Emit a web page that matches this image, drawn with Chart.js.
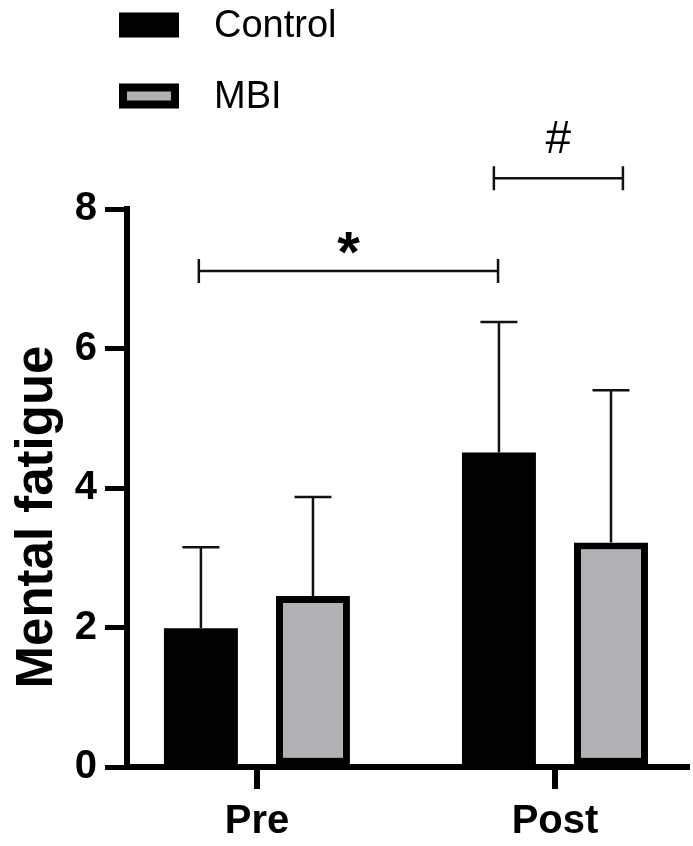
<!DOCTYPE html>
<html>
<head>
<meta charset="utf-8">
<script src="https://cdn.jsdelivr.net/npm/chart.js@4.4.1/dist/chart.umd.min.js"></script>
<style>
    body { margin: 0; background: #fff; }
    canvas { display: block; }
</style>
</head>
<body>
<canvas id="fatigueChart" width="693" height="846"></canvas>
<script>
var categories = ['Pre', 'Post'];
var controlMean = [1.99, 4.51];
var controlSD = [1.16, 1.87];
var mbiMean = [2.45, 3.22];
var mbiSD = [1.42, 2.18];
var yTicks = [0, 2, 4, 6, 8];

// significance brackets, x in category units (Pre = 1, Post = 2), y in axis units
var brackets = [
    { x1: 0.805, x2: 1.809, y: 7.11, label: '*', bold: true },
    { x1: 1.795, x2: 2.228, y: 8.44, label: '#', bold: false }
];

var FONT = '"Liberation Sans", Arial, sans-serif';

function toPoints(values) {
    return values.map(function(v, i) { return { x: i + 1, y: v }; });
}

// upper error bars, legend, y title and brackets
var extrasPlugin = {
    id: 'extras',
    afterDatasetsDraw: function(chart) {
        var ctx = chart.ctx;
        var y = chart.scales.y;
        var x = chart.scales.x;
        var sds = [controlSD, mbiSD];
        var means = [controlMean, mbiMean];

        ctx.save();
        ctx.strokeStyle = '#111';
        ctx.lineWidth = 2.5;
        for (var d = 0; d < 2; d++) {
            var meta = chart.getDatasetMeta(d);
            meta.data.forEach(function(bar, i) {
                var top = y.getPixelForValue(means[d][i] + sds[d][i]);
                var base = y.getPixelForValue(means[d][i]);
                ctx.beginPath();
                ctx.moveTo(bar.x, base);
                ctx.lineTo(bar.x, top);
                ctx.moveTo(bar.x - 18.5, top);
                ctx.lineTo(bar.x + 18.5, top);
                ctx.stroke();
            });
        }

        // brackets
        ctx.fillStyle = '#000';
        ctx.textAlign = 'center';
        ctx.textBaseline = 'alphabetic';
        brackets.forEach(function(b) {
            var px1 = x.getPixelForValue(b.x1);
            var px2 = x.getPixelForValue(b.x2);
            var py = y.getPixelForValue(b.y);
            ctx.lineWidth = 2.5;
            ctx.beginPath();
            ctx.moveTo(px1, py);
            ctx.lineTo(px2, py);
            ctx.moveTo(px1, py - 12);
            ctx.lineTo(px1, py + 12);
            ctx.moveTo(px2, py - 12);
            ctx.lineTo(px2, py + 12);
            ctx.stroke();
            if (b.bold) {
                ctx.font = 'bold 58px ' + FONT;
                ctx.fillText(b.label, (px1 + px2) / 2, py + 1);
            } else {
                ctx.font = '46px ' + FONT;
                ctx.fillText(b.label, (px1 + px2) / 2, py - 25);
            }
        });

        // y axis title
        ctx.save();
        ctx.translate(38, 517);
        ctx.rotate(-Math.PI / 2);
        ctx.font = 'bold 51px ' + FONT;
        ctx.textBaseline = 'middle';
        ctx.fillText('Mental fatigue', 0, 0);
        ctx.restore();

        // legend
        var ds = chart.data.datasets;
        var rows = [25, 96];
        ctx.textAlign = 'left';
        ctx.textBaseline = 'middle';
        ctx.font = '38px ' + FONT;
        ds.forEach(function(set, i) {
            var ty = rows[i];
            ctx.fillStyle = set.borderColor;
            ctx.fillRect(119, ty - 12.5, 60, 25);
            if (set.backgroundColor !== set.borderColor) {
                ctx.fillStyle = set.backgroundColor;
                ctx.fillRect(127, ty - 4.5, 44, 9);
            }
            ctx.fillStyle = '#000';
            ctx.fillText(set.label, 214, ty + 2);
        });
        ctx.restore();
    }
};

var ctx = document.getElementById('fatigueChart').getContext('2d');
var chart = new Chart(ctx, {
    type: 'bar',
    data: {
        datasets: [{
            label: 'Control',
            data: toPoints(controlMean),
            backgroundColor: '#000',
            borderColor: '#000',
            borderWidth: 0,
            borderSkipped: false
        }, {
            label: 'MBI',
            data: toPoints(mbiMean),
            backgroundColor: '#b1b1b5',
            borderColor: '#000',
            borderWidth: 7,
            borderSkipped: false
        }]
    },
    options: {
        responsive: false,
        animation: false,
        devicePixelRatio: 1,
        categoryPercentage: 0.752,
        barPercentage: 0.66,
        layout: { padding: { top: 209, right: 6, left: 0, bottom: 0 } },
        plugins: {
            legend: { display: false },
            tooltip: { enabled: false }
        },
        scales: {
            x: {
                type: 'linear',
                offset: false,
                min: 0.564,
                max: 2.443,
                afterBuildTicks: function(scale) {
                    scale.ticks = categories.map(function(c, i) { return { value: i + 1 }; });
                },
                afterFit: function(scale) { scale.height = 79; },
                border: { display: true, color: '#000', width: 6 },
                grid: { offset: false, drawOnChartArea: false, color: '#000', lineWidth: 6, tickLength: 22 },
                ticks: {
                    color: '#000',
                    padding: 9,
                    maxRotation: 0,
                    autoSkip: false,
                    font: { family: FONT, size: 40, weight: 'bold' },
                    callback: function(value) { return categories[value - 1]; }
                }
            },
            y: {
                min: 0,
                max: 8,
                afterBuildTicks: function(scale) {
                    scale.ticks = yTicks.map(function(v) { return { value: v }; });
                },
                afterFit: function(scale) { scale.width = 127; },
                border: { display: true, color: '#000', width: 6 },
                grid: { drawOnChartArea: false, color: '#000', lineWidth: 5, tickLength: 22 },
                ticks: {
                    color: '#000',
                    padding: 8,
                    font: { family: FONT, size: 40, weight: 'bold' }
                }
            }
        }
    },
    plugins: [extrasPlugin]
});
</script>
</body>
</html>
